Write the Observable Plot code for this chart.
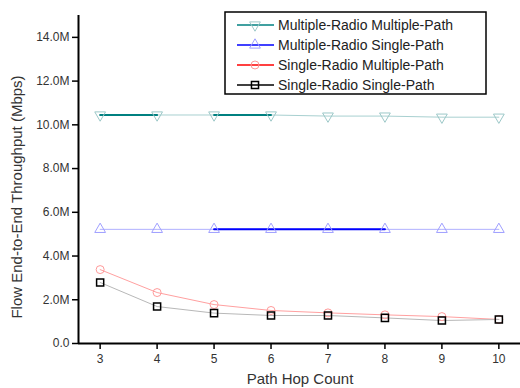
<!DOCTYPE html>
<html>
<head>
<meta charset="utf-8">
<script src="https://cdn.jsdelivr.net/npm/d3@7"></script>
<script src="https://cdn.jsdelivr.net/npm/@observablehq/plot@0.6"></script>
<style>
  html, body { margin: 0; padding: 0; background: #fff; }
  #chart { width: 520px; height: 388px; }
  svg { font-family: "Liberation Sans", Arial, sans-serif; }
</style>
</head>
<body>
<div id="chart"></div>
<script>
const hops = [3, 4, 5, 6, 7, 8, 9, 10];
const seriesNames = [
  "Multiple-Radio Multiple-Path",
  "Multiple-Radio Single-Path",
  "Single-Radio Multiple-Path",
  "Single-Radio Single-Path"
];
const mrmp = [10.45, 10.45, 10.45, 10.45, 10.4, 10.4, 10.35, 10.35];
const mrsp = [5.22, 5.22, 5.22, 5.22, 5.22, 5.22, 5.22, 5.22];
const srmp = [3.38, 2.33, 1.78, 1.51, 1.40, 1.31, 1.23, 1.10];
const srsp = [2.79, 1.69, 1.39, 1.28, 1.28, 1.17, 1.05, 1.10];
const yTicks = [0, 2, 4, 6, 8, 10, 12, 14];
// spans (in hop count) where the original draws the line heavier
const boldSpansMRMP = [[3, 4], [5, 6]];
const boldSpansMRSP = [[5, 8]];

const lineColors = ["#008080", "#0000ff", "#ff0000", "#000000"];
const faintColors = ["#a8d0d0", "#b0b0ff", "#ffa0a0", "#b8b8b8"];
const markerColors = ["#9cc8c8", "#9f9fff", "#ff9a9a", "#000000"];
const symbols = ["triangle", "triangle", "circle", "square"];
const rotations = [180, 0, 0, 0];

const allValues = [mrmp, mrsp, srmp, srsp];
const spansAll = [boldSpansMRMP, boldSpansMRSP, [], []];

const data = [];
allValues.forEach((vals, s) => hops.forEach((h, i) => data.push({s, hop: h, v: vals[i]})));

const boldData = [];
spansAll.forEach((spans, s) => spans.forEach((sp, k) => {
  data.filter(d => d.s === s && d.hop >= sp[0] && d.hop <= sp[1])
      .forEach(d => boldData.push({...d, seg: s + "-" + k}));
}));

const marks = [];
allValues.forEach((vals, s) => {
  marks.push(Plot.line(data.filter(d => d.s === s), {x: "hop", y: "v", stroke: faintColors[s], strokeWidth: 1}));
});
spansAll.forEach((spans, s) => {
  if (spans.length) marks.push(Plot.line(boldData.filter(d => d.s === s), {x: "hop", y: "v", z: "seg", stroke: lineColors[s], strokeWidth: 2}));
});
allValues.forEach((vals, s) => {
  marks.push(Plot.dot(data.filter(d => d.s === s), {
    x: "hop", y: "v", symbol: symbols[s], rotate: rotations[s],
    r: 4, stroke: markerColors[s], strokeWidth: s === 3 ? 1.5 : 1, fill: "none"
  }));
});

const xDomain = [2.62, 10.38];
const chart = Plot.plot({
  width: 520,
  height: 388,
  marginLeft: 78,
  marginRight: 0,
  marginTop: 15,
  marginBottom: 45,
  style: {fontFamily: "Liberation Sans, Arial, sans-serif", fontSize: "12px", color: "#333", background: "#fff"},
  x: {domain: xDomain, label: null},
  y: {domain: [0, 15], label: null},
  marks: [
    Plot.axisY({ticks: yTicks, tickFormat: d => d === 0 ? "0.0" : d.toFixed(1) + "M", tickSize: 6, tickPadding: 3, stroke: "#000", strokeWidth: 1.5, fontSize: 12, label: null}),
    Plot.axisX({ticks: hops, tickFormat: d => String(d), tickSize: 6, tickPadding: 5, stroke: "#000", strokeWidth: 1.5, fontSize: 12, label: null}),
    Plot.ruleY([0], {stroke: "#000", strokeWidth: 2}),
    Plot.ruleX([xDomain[0]], {stroke: "#000", strokeWidth: 2}),
    ...marks
  ]
});
document.getElementById("chart").appendChild(chart);

const svg = d3.select(chart);
// axis titles
svg.append("text")
  .attr("transform", "translate(22,197) rotate(-90)")
  .attr("text-anchor", "middle")
  .attr("fill", "#333")
  .style("font-size", "15px")
  .text("Flow End-to-End Throughput (Mbps)");
svg.append("text")
  .attr("x", 300).attr("y", 384)
  .attr("text-anchor", "middle")
  .attr("fill", "#333")
  .style("font-size", "15px")
  .text("Path Hop Count");

// legend
const lg = svg.append("g").attr("transform", "translate(225,12)");
lg.append("rect").attr("width", 261).attr("height", 82).attr("fill", "#fff").attr("stroke", "#000").attr("stroke-width", 1.5);
seriesNames.forEach((name, i) => {
  const y = 13 + i * 20;
  lg.append("line").attr("x1", 12).attr("x2", 49).attr("y1", y).attr("y2", y).attr("stroke", lineColors[i]).attr("stroke-width", 1.5);
  const sym = d3.symbol().type(symbols[i] === "triangle" ? d3.symbolTriangle : symbols[i] === "circle" ? d3.symbolCircle : d3.symbolSquare).size(50);
  lg.append("path").attr("d", sym()).attr("transform", `translate(30,${y}) rotate(${rotations[i]})`)
    .attr("fill", "none").attr("stroke", markerColors[i]).attr("stroke-width", i === 3 ? 1.5 : 1);
  lg.append("text").attr("x", 53).attr("y", y + 5).attr("text-anchor", "start").attr("fill", "#222").style("font-size", "14px").text(name);
});
</script>
</body>
</html>
